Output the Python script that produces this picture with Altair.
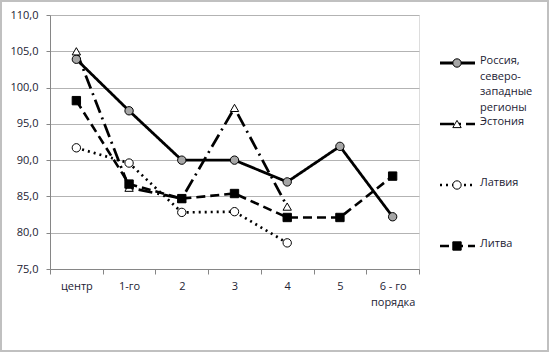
import altair as alt
import pandas as pd

categories = ["центр", "1-го", "2", "3", "4", "5", "6 - го\nпорядка"]
series_names = ["Россия, северо-западные регионы", "Эстония", "Латвия", "Литва"]
legend_labels = ["Россия,\nсеверо-\nзападные\nрегионы", "Эстония", "Латвия", "Литва"]

russia = [103.9, 96.8, 90.0, 90.0, 87.0, 91.9, 82.2]
estonia = [105.0, 86.2, 84.7, 97.2, 83.6]
latvia = [91.7, 89.6, 82.8, 82.9, 78.6]
lithuania = [98.2, 86.7, 84.7, 85.4, 82.1, 82.1, 87.8]
y_ticks = [75, 80, 85, 90, 95, 100, 105, 110]

rows = []
for name, vals in zip(series_names, [russia, estonia, latvia, lithuania]):
    for i, v in enumerate(vals):
        rows.append({"series": name, "cat": categories[i], "value": v})
df = pd.DataFrame(rows)
leg = pd.DataFrame({"series": series_names, "label": legend_labels})

FONT = "Open Sans"
TXT = "#222233"

dash_scale = alt.Scale(domain=series_names, range=[[1, 0], [14, 5, 2, 5], [2, 4], [9, 5]])
width_scale = alt.Scale(domain=series_names, range=[2.8, 2.6, 2.2, 2.6])
shape_scale = alt.Scale(domain=series_names, range=["circle", "triangle-up", "circle", "square"])
fill_scale = alt.Scale(domain=series_names, range=["#a6a6a6", "#ffffff", "#ffffff", "#000000"])
size_scale = alt.Scale(domain=series_names, range=[70, 70, 75, 80])

x_axis = alt.Axis(title=None, labelAngle=0, tickBand="extent", labelExpr="split(datum.label, '\\n')",
                  grid=False, domainColor="#868686", tickColor="#868686", tickSize=5,
                  labelFont=FONT, labelFontSize=11, labelColor=TXT, labelPadding=6,
                  labelLineHeight=16)
y_axis = alt.Axis(title=None, values=y_ticks,
                  labelExpr="replace(format(datum.value, '.1f'), '.', ',')",
                  labelOverlap=False,
                  gridColor="#b3b3b3", domainColor="#868686", tickColor="#868686", tickSize=4,
                  labelFont=FONT, labelFontSize=11, labelColor=TXT, labelPadding=8)
x_scale = alt.Scale(domain=categories, paddingInner=0, paddingOuter=0)
y_scale = alt.Scale(domain=[75, 110], nice=False, zero=False)

lines = alt.Chart(df).mark_line().encode(
    x=alt.X("cat:N", sort=categories, scale=x_scale, axis=x_axis),
    y=alt.Y("value:Q", scale=y_scale, axis=y_axis),
    detail="series:N",
    color=alt.value("#000000"),
    strokeDash=alt.StrokeDash("series:N", scale=dash_scale, legend=None),
    strokeWidth=alt.StrokeWidth("series:N", scale=width_scale, legend=None),
)

points = alt.Chart(df).mark_point(filled=False, opacity=1, strokeWidth=1).encode(
    x=alt.X("cat:N", sort=categories, scale=x_scale, axis=x_axis),
    y=alt.Y("value:Q", scale=y_scale, axis=y_axis),
    shape=alt.Shape("series:N", scale=shape_scale, legend=None),
    fill=alt.Fill("series:N", scale=fill_scale, legend=None),
    size=alt.Size("series:N", scale=size_scale, legend=None),
    stroke=alt.value("#000000"),
)

main = alt.layer(lines, points)

leg_y = alt.Y("series:N", sort=series_names, scale=alt.Scale(domain=series_names, range=[17.5, 261.5]),
              axis=None)
leg_rule = alt.Chart(leg).mark_rule().encode(
    x=alt.value(390), x2=alt.value(425), y=leg_y,
    color=alt.value("#000000"),
    strokeDash=alt.StrokeDash("series:N", scale=dash_scale, legend=None),
    strokeWidth=alt.StrokeWidth("series:N", scale=width_scale, legend=None),
)
leg_pt = alt.Chart(leg).mark_point(filled=False, opacity=1, strokeWidth=1).encode(
    x=alt.value(407), y=leg_y,
    shape=alt.Shape("series:N", scale=shape_scale, legend=None),
    fill=alt.Fill("series:N", scale=fill_scale, legend=None),
    size=alt.Size("series:N", scale=size_scale, legend=None),
    stroke=alt.value("#000000"),
)
leg_txt = alt.Chart(leg).mark_text(align="left", baseline="top", dy=-8, lineBreak="\n", lineHeight=15.5,
                                   font=FONT, fontSize=11, color=TXT).encode(
    x=alt.value(430), y=leg_y, text="label:N",
)
legend = alt.layer(leg_rule, leg_pt, leg_txt)

border = alt.Chart(leg).mark_rect(fill=None, stroke="#c0c0c0", strokeWidth=1.5).encode(
    x=alt.value(-49), x2=alt.value(498), y=alt.value(-14), y2=alt.value(336),
)

chart = alt.layer(main, legend, border).resolve_scale(y="independent").properties(
    width=369, height=254,
    autosize=alt.AutoSizeParams(type="none"),
    padding={"left": 50, "top": 15, "right": 131, "bottom": 84},
).configure_view(stroke="transparent", strokeWidth=0).configure(background="#ffffff")

chart.save("out.html", embed_options={"renderer": "svg", "actions": False})
